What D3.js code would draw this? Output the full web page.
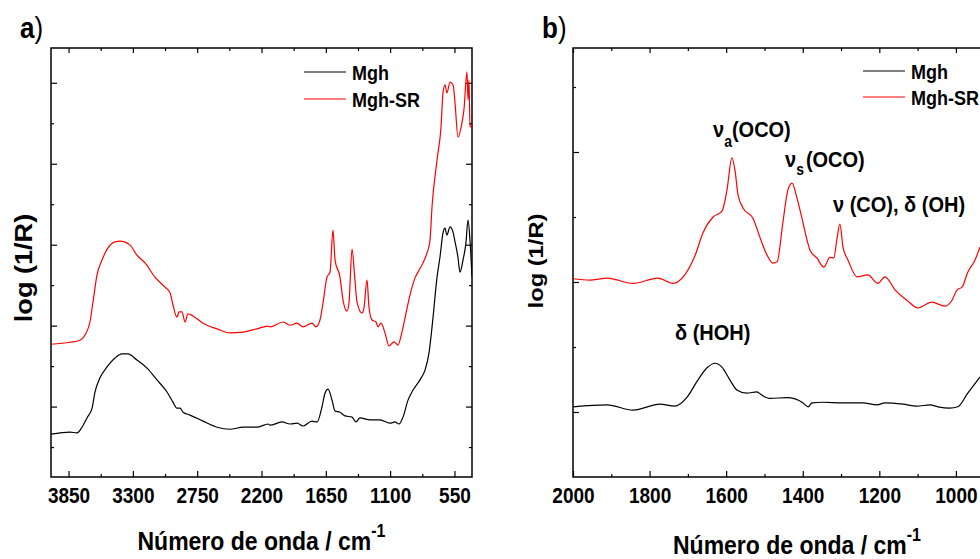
<!DOCTYPE html>
<html>
<head>
<meta charset="utf-8">
<script src="https://cdn.jsdelivr.net/npm/d3@7"></script>
<style>
  body { margin: 0; background: #fff; }
  svg { display: block; font-family: "Liberation Sans", Arial, sans-serif; }
</style>
</head>
<body>
<div id="chart-area"></div>
<script>
// panel a - full range spectrum
var aMghWave = [4000, 3838, 3778, 3735, 3692, 3649, 3624, 3581, 3521, 3453, 3393, 3342, 3265, 3179, 3094, 3008, 2957, 2923, 2897, 2871, 2811, 2700, 2581, 2469, 2358, 2239, 2144, 2127, 2025, 1956, 1896, 1845, 1768, 1725, 1683, 1657, 1631, 1597, 1571, 1529, 1486, 1426, 1392, 1358, 1272, 1187, 1101, 1059, 1024, 990, 947, 904, 845, 802, 768, 733, 699, 674, 648, 631, 614, 588, 562, 545, 520, 503, 477, 452, 434, 417, 400];
var aMghVal = [0.132, 0.137, 0.135, 0.149, 0.172, 0.196, 0.236, 0.271, 0.298, 0.320, 0.330, 0.330, 0.315, 0.295, 0.266, 0.236, 0.211, 0.196, 0.196, 0.186, 0.179, 0.164, 0.149, 0.144, 0.149, 0.149, 0.157, 0.154, 0.162, 0.157, 0.159, 0.152, 0.164, 0.162, 0.199, 0.233, 0.243, 0.216, 0.189, 0.186, 0.177, 0.174, 0.162, 0.172, 0.167, 0.167, 0.159, 0.162, 0.157, 0.174, 0.216, 0.241, 0.266, 0.290, 0.332, 0.421, 0.520, 0.569, 0.629, 0.641, 0.624, 0.644, 0.631, 0.607, 0.569, 0.532, 0.562, 0.604, 0.661, 0.610, 0.520];

var aSrWave = [4000, 3838, 3752, 3709, 3667, 3641, 3607, 3564, 3513, 3453, 3410, 3324, 3265, 3196, 3111, 3025, 2982, 2957, 2923, 2905, 2880, 2854, 2829, 2786, 2700, 2581, 2469, 2358, 2239, 2144, 2127, 2016, 1956, 1896, 1845, 1768, 1734, 1700, 1674, 1640, 1614, 1589, 1571, 1529, 1503, 1469, 1452, 1426, 1401, 1383, 1341, 1324, 1298, 1281, 1255, 1221, 1204, 1178, 1144, 1110, 1067, 1033, 999, 964, 930, 887, 853, 819, 785, 759, 742, 699, 665, 648, 631, 614, 588, 562, 545, 520, 486, 469, 443, 434, 426, 417, 400];
var aSrVal = [0.354, 0.359, 0.364, 0.377, 0.409, 0.458, 0.525, 0.562, 0.592, 0.607, 0.609, 0.599, 0.574, 0.555, 0.520, 0.495, 0.481, 0.451, 0.421, 0.434, 0.434, 0.409, 0.429, 0.424, 0.406, 0.392, 0.382, 0.384, 0.392, 0.399, 0.397, 0.409, 0.401, 0.406, 0.397, 0.406, 0.397, 0.414, 0.456, 0.520, 0.532, 0.636, 0.562, 0.520, 0.463, 0.436, 0.456, 0.589, 0.513, 0.458, 0.431, 0.443, 0.513, 0.446, 0.414, 0.409, 0.397, 0.406, 0.382, 0.350, 0.360, 0.352, 0.384, 0.431, 0.476, 0.518, 0.537, 0.555, 0.579, 0.611, 0.693, 0.809, 0.891, 0.975, 0.995, 0.975, 1.002, 0.995, 0.950, 0.866, 0.901, 0.933, 1.027, 0.958, 1.007, 0.891, 0.896];

var aXLabels = [3850, 3300, 2750, 2200, 1650, 1100, 550];
var aXMinor = [3575, 3025, 2475, 1925, 1375, 825];
var aYMajor = [0.2, 0.4, 0.6, 0.8, 1.0];
var aYMinor = [0.1, 0.3, 0.5, 0.7, 0.9];

// panel b - 2000-900 zoom
var bMghWave = [2000, 1911, 1843, 1773, 1734, 1702, 1674, 1650, 1629, 1611, 1590, 1572, 1546, 1520, 1507, 1486, 1441, 1399, 1386, 1376, 1347, 1295, 1243, 1206, 1185, 1138, 1102, 1068, 1047, 1016, 995, 969, 937];
var bMghVal = [0.108, 0.111, 0.103, 0.112, 0.109, 0.123, 0.149, 0.168, 0.175, 0.169, 0.149, 0.134, 0.129, 0.131, 0.126, 0.121, 0.122, 0.114, 0.108, 0.114, 0.115, 0.114, 0.114, 0.111, 0.114, 0.112, 0.109, 0.111, 0.108, 0.106, 0.108, 0.129, 0.154];

var bSrWave = [2000, 1956, 1911, 1843, 1778, 1739, 1708, 1681, 1661, 1634, 1611, 1598, 1585, 1577, 1569, 1556, 1530, 1512, 1493, 1478, 1467, 1452, 1439, 1428, 1415, 1402, 1389, 1381, 1363, 1345, 1329, 1319, 1311, 1303, 1295, 1282, 1258, 1230, 1204, 1185, 1159, 1128, 1099, 1063, 1029, 1010, 997, 984, 969, 950, 937];
var bSrVal = [0.305, 0.303, 0.306, 0.298, 0.306, 0.298, 0.311, 0.341, 0.375, 0.400, 0.409, 0.441, 0.491, 0.472, 0.434, 0.414, 0.398, 0.369, 0.341, 0.329, 0.331, 0.391, 0.441, 0.452, 0.429, 0.398, 0.365, 0.349, 0.337, 0.323, 0.338, 0.337, 0.365, 0.389, 0.354, 0.334, 0.308, 0.311, 0.298, 0.308, 0.288, 0.272, 0.260, 0.269, 0.263, 0.272, 0.288, 0.292, 0.315, 0.334, 0.354];

var bXLabels = [2000, 1800, 1600, 1400, 1200, 1000];
var bXMinor = [1900, 1700, 1500, 1300, 1100, 900];
var bYMajor = [0.1, 0.3, 0.5];
var bYMinor = [0.2, 0.4, 0.6];

var legendNames = ["Mgh", "Mgh-SR"];
var colors = ["#000000", "#ff0000"];

var STRETCH = 1.13; // text in the picture is a bit taller than Arial

var svg = d3.select("#chart-area")
  .append("svg")
  .attr("width", 980)
  .attr("height", 559);

function zip(w, v) {
  return w.map(function(d, i) { return [d, v[i]]; });
}

function addText(parent, x, y, size, weight, anchor) {
  return parent.append("text")
    .attr("transform", "translate(" + x + "," + y + ") scale(1," + STRETCH + ")")
    .attr("font-size", size + "px")
    .attr("font-weight", weight)
    .attr("text-anchor", anchor || "start")
    .attr("fill", "#000");
}

function drawPanel(cfg) {
  var x = d3.scaleLinear().domain(cfg.xDomain).range([cfg.left, cfg.right]);
  var y = d3.scaleLinear().domain(cfg.yDomain).range([477, 48]);
  var top = 48, bottom = 477;

  var g = svg.append("g");

  var clipId = "clip-" + cfg.name;
  g.append("clipPath").attr("id", clipId)
    .append("rect")
    .attr("x", cfg.left).attr("y", top)
    .attr("width", cfg.right - cfg.left).attr("height", bottom - top);

  // bottom axis with labels
  var xb = g.append("g").attr("transform", "translate(0," + bottom + ")")
    .call(d3.axisBottom(x).tickValues(cfg.xLabels).tickSize(-6).tickSizeOuter(0).tickFormat(d3.format("d")));
  xb.selectAll("text")
    .attr("y", 26 / STRETCH).attr("dy", 0)
    .attr("transform", "scale(1," + STRETCH + ")")
    .attr("font-size", "19px").attr("font-weight", "bold")
    .attr("font-family", "Liberation Sans, Arial, sans-serif")
    .attr("fill", "#000");
  g.append("g").attr("transform", "translate(0," + bottom + ")")
    .call(d3.axisBottom(x).tickValues(cfg.xMinor).tickSize(-3).tickFormat(""));

  // top axis
  g.append("g").attr("transform", "translate(0," + top + ")")
    .call(d3.axisTop(x).tickValues(cfg.xLabels).tickSize(-5).tickFormat(""));
  g.append("g").attr("transform", "translate(0," + top + ")")
    .call(d3.axisTop(x).tickValues(cfg.xMinor).tickSize(-3).tickFormat(""));

  // left and right axes, no labels
  g.append("g").attr("transform", "translate(" + cfg.left + ",0)")
    .call(d3.axisLeft(y).tickValues(cfg.yMajor).tickSize(-6).tickFormat(""));
  g.append("g").attr("transform", "translate(" + cfg.left + ",0)")
    .call(d3.axisLeft(y).tickValues(cfg.yMinor).tickSize(-3).tickFormat(""));
  g.append("g").attr("transform", "translate(" + cfg.right + ",0)")
    .call(d3.axisRight(y).tickValues(cfg.yMajor).tickSize(-6).tickFormat(""));
  g.append("g").attr("transform", "translate(" + cfg.right + ",0)")
    .call(d3.axisRight(y).tickValues(cfg.yMinor).tickSize(-3).tickFormat(""));

  g.selectAll(".domain").remove();
  g.selectAll(".tick line").attr("stroke", "#000").attr("stroke-width", 1.2);

  // frame
  g.append("rect")
    .attr("x", cfg.left).attr("y", top)
    .attr("width", cfg.right - cfg.left).attr("height", bottom - top)
    .attr("fill", "none").attr("stroke", "#000").attr("stroke-width", 1.5);

  var line = d3.line()
    .x(function(d) { return x(d[0]); })
    .y(function(d) { return y(d[1]); })
    .curve(d3.curveMonotoneX);

  cfg.series.forEach(function(s, i) {
    g.append("path")
      .datum(s)
      .attr("clip-path", "url(#" + clipId + ")")
      .attr("d", line)
      .attr("fill", "none")
      .attr("stroke", colors[i])
      .attr("stroke-width", 1.2);
  });

  // legend
  legendNames.forEach(function(name, i) {
    var ly = cfg.legendY[i];
    g.append("line")
      .attr("x1", cfg.legendX).attr("x2", cfg.legendX + 42)
      .attr("y1", ly).attr("y2", ly)
      .attr("stroke", colors[i]).attr("stroke-width", 1.2);
    addText(g, cfg.legendX + 48, ly + 8, 18, "bold").text(name);
  });

  // panel letter
  var t = addText(g, cfg.letterX, 38, 26, "bold");
  t.append("tspan").text(cfg.name);
  t.append("tspan").attr("font-weight", "normal").text(")");

  // x title
  var xt = addText(g, (cfg.left + cfg.right) / 2, cfg.titleY, 23, "bold", "middle");
  xt.append("tspan").text("Número de onda / cm");
  xt.append("tspan").attr("font-size", "16px").attr("dy", -11.5).text("-1");

  // y title
  g.append("text")
    .attr("transform", "translate(" + cfg.yTitleX + "," + cfg.yTitleY + ") rotate(-90) scale(" + STRETCH + ",1)")
    .attr("font-size", cfg.yTitleSize + "px")
    .attr("font-weight", "bold")
    .attr("text-anchor", "middle")
    .text("log (1/R)");

  return g;
}

drawPanel({
  name: "a",
  xDomain: [4000, 400],
  yDomain: [0.026, 1.086],
  left: 51, right: 472,
  xLabels: aXLabels, xMinor: aXMinor,
  yMajor: aYMajor, yMinor: aYMinor,
  series: [zip(aMghWave, aMghVal), zip(aSrWave, aSrVal)],
  legendX: 304, legendY: [72, 99],
  letterX: 20,
  titleY: 550,
  yTitleX: 32, yTitleY: 268, yTitleSize: 24
});

var gb = drawPanel({
  name: "b",
  xDomain: [2000, 830],
  yDomain: [0, 0.66],
  left: 573, right: 1021,
  xLabels: bXLabels, xMinor: bXMinor,
  yMajor: bYMajor, yMinor: bYMinor,
  series: [zip(bMghWave, bMghVal), zip(bSrWave, bSrVal)],
  legendX: 863, legendY: [71, 97],
  letterX: 542,
  titleY: 554,
  yTitleX: 543, yTitleY: 261, yTitleSize: 21
});

// band assignments in panel b
var n1 = addText(gb, 713, 137, 20, "bold");
n1.append("tspan").text("ν");
n1.append("tspan").attr("font-size", "14px").attr("dy", 8.8).text("a");
n1.append("tspan").attr("dy", -8.8).text("(OCO)");

var n2 = addText(gb, 785, 167, 20, "bold");
n2.append("tspan").text("ν");
n2.append("tspan").attr("font-size", "14px").attr("dy", 7).text("s");
n2.append("tspan").attr("dy", -7).attr("dx", 2).text("(OCO)");

addText(gb, 833, 212, 20, "bold").text("ν (CO), δ (OH)");
addText(gb, 675, 340, 20, "bold").text("δ (HOH)");
</script>
</body>
</html>
